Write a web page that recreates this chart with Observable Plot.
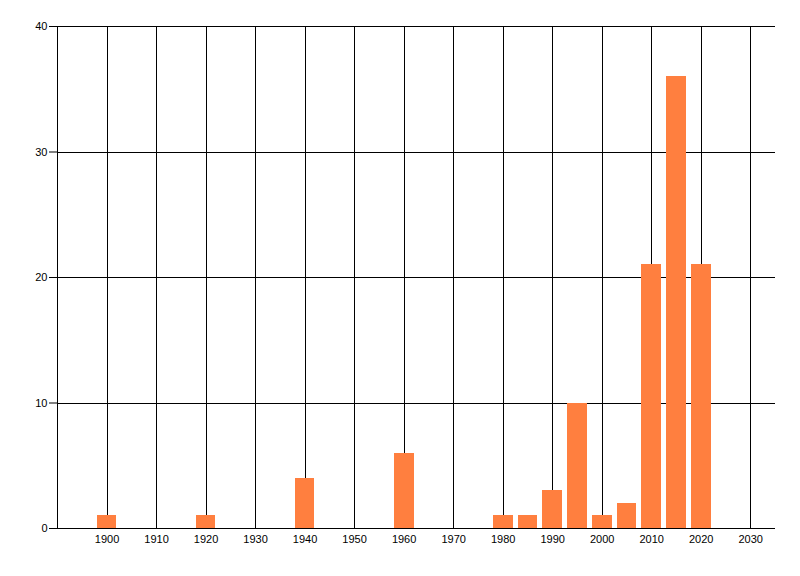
<!DOCTYPE html>
<html>
<head>
<meta charset="utf-8">
<script src="https://cdn.jsdelivr.net/npm/d3@7"></script>
<script src="https://cdn.jsdelivr.net/npm/@observablehq/plot@0.6"></script>
<style>
  html, body { margin: 0; padding: 0; background: #fff; }
  #chart svg { display: block; }
</style>
</head>
<body>
<div id="chart"></div>
<script>
// counts per year bin
const years  = [1900, 1920, 1940, 1960, 1980, 1985, 1990, 1995, 2000, 2005, 2010, 2015, 2020];
const counts = [1, 1, 4, 6, 1, 1, 3, 10, 1, 2, 21, 36, 21];

const xTicks = [1900, 1910, 1920, 1930, 1940, 1950, 1960, 1970, 1980, 1990, 2000, 2010, 2020, 2030];
const yTicks = [0, 10, 20, 30, 40];

const bars = years.map((y, i) => ({ year: y, count: counts[i] }));

const chart = Plot.plot({
  width: 800,
  height: 576,
  marginLeft: 57,
  marginRight: 25,
  marginTop: 26,
  marginBottom: 48,
  style: { fontFamily: "Liberation Sans, Arial, sans-serif", fontSize: "11px", color: "#000", background: "#fff" },
  x: { domain: [1890, 2035] },
  y: { domain: [0, 40] },
  marks: [
    Plot.ruleX(xTicks, { y1: 0, y2: 40, stroke: "#000", shapeRendering: "crispEdges" }),
    Plot.ruleX([1890], { y1: 0, y2: 40, stroke: "#000", shapeRendering: "crispEdges" }),
    Plot.ruleY(yTicks.slice(1), { stroke: "#000", shapeRendering: "crispEdges" }),
    Plot.rect(bars, {
      x1: d => d.year - 2,
      x2: d => d.year + 2,
      y1: 0,
      y2: "count",
      fill: "#FF7F3F",
      shapeRendering: "crispEdges"
    }),
    Plot.ruleY([0], { stroke: "#000", shapeRendering: "crispEdges" }),
    Plot.axisY({ ticks: yTicks, tickSize: 8, tickPadding: 2, label: null, tickFormat: d => String(d), fontSize: 11, stroke: "#000" }),
    Plot.axisX({ ticks: xTicks, tickSize: 0, tickPadding: 7, label: null, tickFormat: d => String(d), fontSize: 11 })
  ]
});

document.getElementById("chart").append(chart);
</script>
</body>
</html>
